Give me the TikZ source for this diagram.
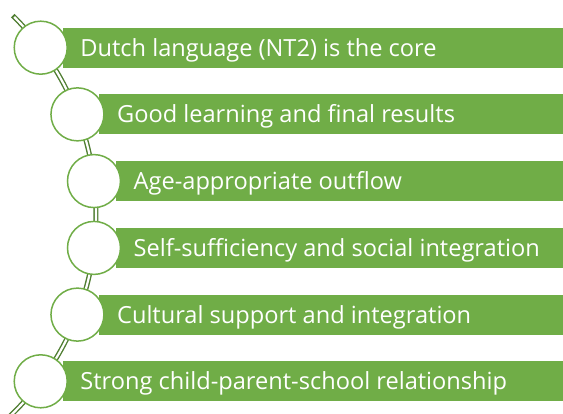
\documentclass[tikz,border=0pt]{standalone}
\usepackage{fontspec}
\setmainfont{Open Sans}
\usetikzlibrary{calc}
\definecolor{barGreen}{HTML}{70AD47}
\definecolor{darkGreen}{HTML}{507E32}
\begin{document}
\begin{tikzpicture}[x=1pt,y=1pt,
  bar/.style={fill=barGreen,draw=none},
  bubble/.style={circle,draw=barGreen,line width=1.5pt,fill=white,minimum size=53pt,inner sep=0pt},
  label/.style={anchor=base west,text=white,font=\fontsize{23.6}{26}\selectfont,inner sep=0pt}]
\useasboundingbox (0,0) rectangle (563,414);
\clip (0,0) rectangle (563,414);
\coordinate (C) at (-183.4,199.5);
\coordinate (E) at (563,0);
% spine
\draw[darkGreen,line width=5pt] ($(C)+(45.4:279.4pt)$) arc[start angle=45.4,end angle=-50,radius=279.4pt];
\draw[white,line width=2.2pt] ($(C)+(45.0:279.4pt)$) arc[start angle=45.0,end angle=-50,radius=279.4pt];
% rows
\foreach \ang/\txt/\n in {36.66/Dutch language (NT2) is the core/1,
  21.0/Good learning and final results/2,
  6.87/Age-appropriate outflow/3,
  -6.87/Self-sufficiency and social integration/4,
  -21.0/Cultural support and integration/5,
  -36.66/Strong child-parent-school relationship/6}{
  \coordinate (c\n) at ($(C)+(\ang:279.4pt)$);
  \coordinate (bl\n) at ($(c\n)+(22,-20)$);
  \coordinate (tr\n) at ($(c\n)+(0,20)$);
  \path[bar] (bl\n) rectangle (E |- tr\n);
  \node[bubble] (b\n) at (c\n) {};
  \node[label] (t\n) at ($(c\n)+(39.5,-8.4)$) {\txt};
}
\end{tikzpicture}
\end{document}
